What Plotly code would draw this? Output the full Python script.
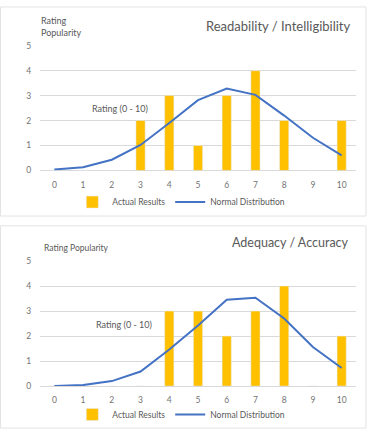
import plotly.graph_objects as go

ratings = list(range(11))
tick_labels = [str(r) for r in ratings]

# Chart 1: Readability / Intelligibility
read_actual = [0, 0, 0, 2, 3, 1, 3, 4, 2, 0, 2]
read_normal = [0.04, 0.13, 0.43, 1.02, 1.9, 2.82, 3.28, 3.03, 2.2, 1.31, 0.6]

# Chart 2: Adequacy / Accuracy
adeq_actual = [0, 0, 0, 0, 3, 3, 2, 3, 4, 0, 2]
adeq_normal = [0.0, 0.04, 0.2, 0.58, 1.46, 2.42, 3.45, 3.53, 2.7, 1.56, 0.72]

W, H = 370, 437
BAR = "#FFC000"
LINE = "#4472C4"
GRAY = "#595959"
TICK = "#737373"
GRID = "#d9d9d9"
FONT = "Lato"


def py(px):
    return 1 - px / H


def px_x(px):
    return px / W


fig = go.Figure()

fig.add_trace(go.Bar(x=ratings, y=read_actual, name="Actual Results", marker_color=BAR,
                     width=0.32, xaxis="x", yaxis="y", legend="legend"))
fig.add_trace(go.Scatter(x=ratings, y=read_normal, name="Normal Distribution", mode="lines",
                         line=dict(color=LINE, width=2), xaxis="x", yaxis="y", legend="legend"))
fig.add_trace(go.Bar(x=ratings, y=adeq_actual, name="Actual Results", marker_color=BAR,
                     width=0.32, xaxis="x2", yaxis="y2", legend="legend2"))
fig.add_trace(go.Scatter(x=ratings, y=adeq_normal, name="Normal Distribution", mode="lines",
                         line=dict(color=LINE, width=2), xaxis="x2", yaxis="y2", legend="legend2"))

xdom = [px_x(40), px_x(356)]
xcommon = dict(domain=xdom, range=[-0.5, 10.5], tickvals=ratings, ticktext=tick_labels,
               showgrid=False, zeroline=False, showline=False,
               ticks="outside", ticklen=6, tickcolor="rgba(0,0,0,0)",
               tickfont=dict(family=FONT, size=8.5, color=TICK))
ycommon = dict(range=[0, 5], tickvals=[0, 1, 2, 3, 4, 5], showgrid=True, gridcolor=GRID,
               gridwidth=1, zeroline=True, zerolinecolor=GRID, zerolinewidth=1,
               showline=False, ticks="outside", ticklen=6, tickcolor="rgba(0,0,0,0)",
               tickfont=dict(family=FONT, size=8.5, color=TICK))

legend_common = dict(orientation="h", xanchor="center", x=0.49, yanchor="middle",
                     font=dict(family=FONT, size=8.5, color=GRAY), bgcolor="rgba(0,0,0,0)",
                     itemwidth=30, tracegroupgap=0)

fig.update_layout(
    width=W, height=H,
    margin=dict(l=0, r=0, t=0, b=0),
    paper_bgcolor="white", plot_bgcolor="white",
    barmode="overlay",
    font=dict(family=FONT, color=GRAY),
    xaxis=dict(**xcommon, anchor="y"),
    yaxis=dict(**ycommon, domain=[py(169.3), py(41.7)], anchor="x"),
    xaxis2=dict(**xcommon, anchor="y2"),
    yaxis2=dict(**ycommon, domain=[py(390), py(262)], anchor="x2"),
    legend=dict(**legend_common, y=py(201.7)),
    legend2=dict(**legend_common, y=py(419)),
    shapes=[
        dict(type="rect", xref="paper", yref="paper", x0=px_x(0.5), x1=px_x(366),
             y0=py(216), y1=py(2), line=dict(color="#e3e3e3", width=1)),
        dict(type="rect", xref="paper", yref="paper", x0=px_x(0.5), x1=px_x(366),
             y0=py(433), y1=py(226), line=dict(color="#e3e3e3", width=1)),
    ],
    annotations=[
        dict(text="Readability / Intelligibility", xref="paper", yref="paper",
             x=px_x(353), y=py(21.5), xanchor="right", yanchor="middle", showarrow=False,
             font=dict(family=FONT, size=13, color=GRAY)),
        dict(text="Rating<br>Popularity", xref="paper", yref="paper", align="left",
             x=px_x(39), y=py(22.5), xanchor="left", yanchor="middle", showarrow=False,
             font=dict(family=FONT, size=9, color=GRAY)),
        dict(text="Rating (0 - 10)", xref="paper", yref="paper",
             x=px_x(90), y=py(105.5), xanchor="left", yanchor="middle", showarrow=False,
             font=dict(family=FONT, size=9, color=GRAY)),
        dict(text="Adequacy / Accuracy", xref="paper", yref="paper",
             x=px_x(351), y=py(243.3), xanchor="right", yanchor="middle", showarrow=False,
             font=dict(family=FONT, size=12.5, color=GRAY)),
        dict(text="Rating Popularity", xref="paper", yref="paper",
             x=px_x(42), y=py(249), xanchor="left", yanchor="middle", showarrow=False,
             font=dict(family=FONT, size=8.5, color=GRAY)),
        dict(text="Rating (0 - 10)", xref="paper", yref="paper",
             x=px_x(94), y=py(327.3), xanchor="left", yanchor="middle", showarrow=False,
             font=dict(family=FONT, size=9, color=GRAY)),
    ],
)

fig.write_html("out.html")
